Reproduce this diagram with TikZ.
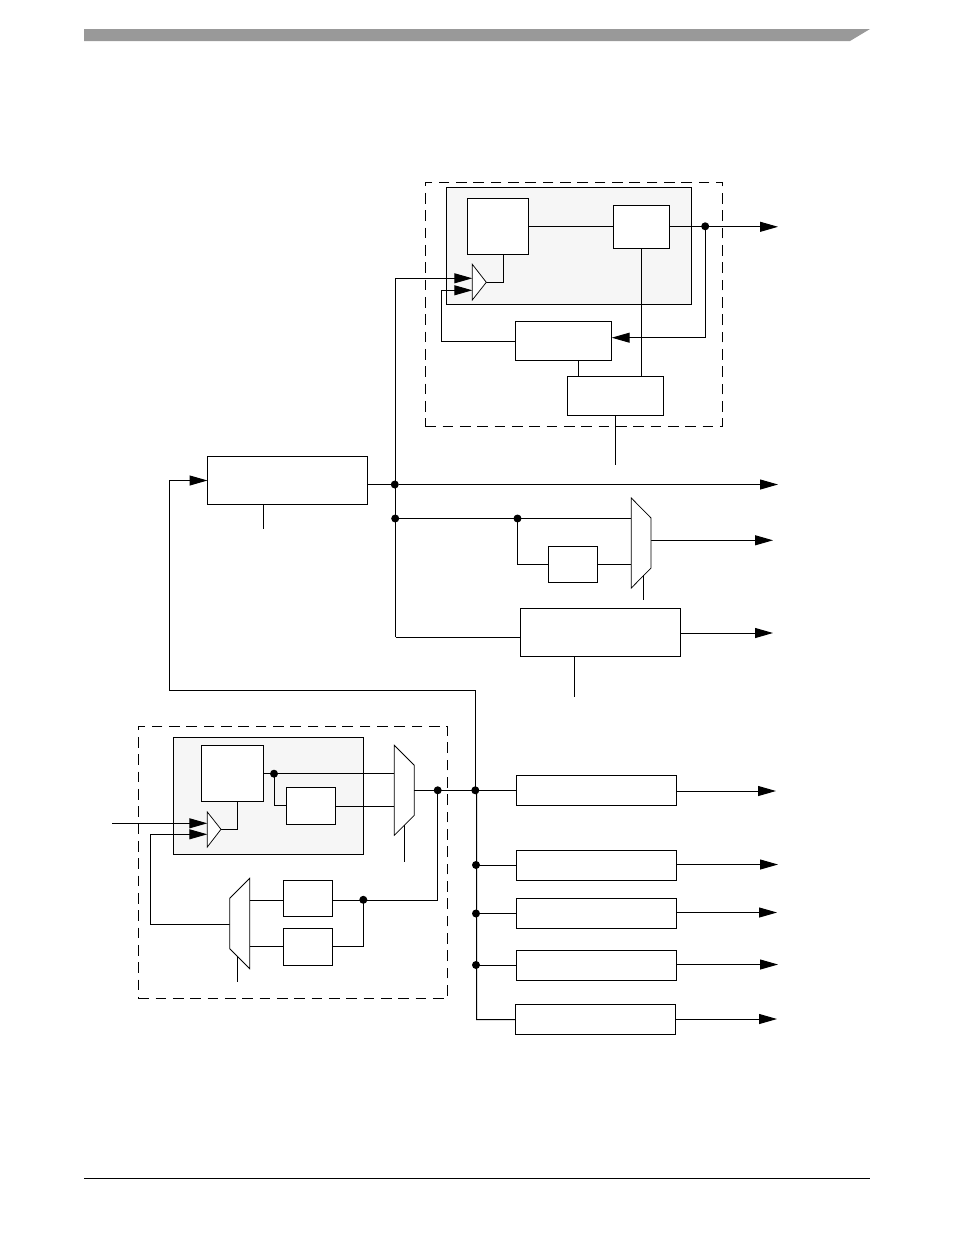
\documentclass[tikz,border=0pt]{standalone}
\usetikzlibrary{arrows.meta}
\definecolor{pllgray}{HTML}{F6F6F6}
\definecolor{bargray}{HTML}{999999}
\tikzset{
	blksize/.style 2 args={minimum width=#1*0.75pt, minimum height=#2*0.75pt},
	blk/.style={draw, fill=white, inner sep=0pt, outer sep=0pt},
	pllblk/.style={blk, fill=pllgray},
	dashblk/.style={draw, dash pattern=on 8pt off 5pt, inner sep=0pt, outer sep=0pt},
	muxbody/.style={draw, fill=white, line width=0.55pt},
	jdot/.style={circle, fill=black, inner sep=0pt, outer sep=0pt, minimum size=6pt},
}
\begin{document}
\begin{tikzpicture}[x=0.75pt, y=-0.75pt, line width=0.75pt, >={Triangle[length=13.5pt,width=7.5pt]}]
	\useasboundingbox (0,0) rectangle (954,1235);
	% page furniture
	\fill[bargray] (84,29) -- (870,29) -- (850,41) -- (84,41) -- cycle;
	\draw[line width=0.6pt] (84,1178) -- (870,1178);

	% upper group
	\node[dashblk, blksize={297.4}{244}] (dashA) at (574,304.3) {};
	\node[pllblk, blksize={245}{117}] (pllA) at (568.8,245.8) {};
	\node[blk, blksize={61.4}{56}] (vcoA) at (498,226.3) {};
	\node[blk, blksize={56.4}{43}] (divA) at (641.5,226.8) {};
	\node[blk, blksize={96.4}{39}] (fbA) at (563.5,340.8) {};
	\node[blk, blksize={96}{39}] (ctlA) at (615.3,395.8) {};
	\coordinate (triAa) at (472.3,278.3);
	\coordinate (triAb) at (472.3,290.3);
	\coordinate (triAtip) at (486.3,282.3);
	\coordinate (vcoAtap) at (503.3,254.3);
	\coordinate (fbAin) at (611.7,337.7);
	\coordinate (fbAturn) at (441.3,341.3);
	\coordinate (fbAtap) at (578.3,360.3);
	\coordinate (ctlAend) at (615.3,464.7);
	\coordinate (outA) at (778,226.8);
	\node[jdot] (jA) at (705.2,226.3) {};
	\draw (vcoA.east) -- (divA.west |- vcoA.east);
	\draw[->] (divA.east) -- (outA);
	\draw (vcoAtap) |- (triAtip);
	\draw (divA.south) -- (divA.south |- ctlA.north);
	\draw (fbAtap) -- (fbAtap |- ctlA.north);
	\draw (ctlA.south) -- (ctlAend);
	\draw[->] (jA.center) |- (fbAin);
	\draw[->] (fbA.west |- fbAturn) -- (fbAturn) |- (triAb);
	\draw[muxbody] (472.3,264.3) -- (486.3,282.3) -- (472.3,300) -- cycle;

	% source block and its branches
	\node[blk, blksize={160}{48}] (bigA) at (287.5,480.5) {};
	\node[blk, blksize={160}{48}] (bigB) at (600.5,632.5) {};
	\node[blk, blksize={49.4}{36}] (divB) at (573,564.3) {};
	\node[jdot] (jC) at (394.8,484.5) {};
	\node[jdot] (jD) at (395.2,518.5) {};
	\node[jdot] (jE) at (517.5,518.5) {};
	\coordinate (upA) at (395.5,278.3);
	\coordinate (bigBin) at (520.5,637);
	\coordinate (muxBa) at (631.3,518.5);
	\coordinate (muxBb) at (631.3,564.3);
	\coordinate (muxBout) at (651,540.3);
	\coordinate (muxBsel) at (643.3,575);
	\coordinate (muxBend) at (643.3,599.7);
	\coordinate (outC) at (778,484.5);
	\coordinate (outD) at (773,540.3);
	\coordinate (outE) at (773,633);
	\coordinate (bigAtap) at (263.5,504.5);
	\coordinate (bigAend) at (263.5,529);
	\coordinate (bigBtap) at (574.5,656.5);
	\coordinate (bigBend) at (574.5,697);
	\draw (bigA.east |- jC) -- (jC);
	\draw[->] (jC) -- (outC);
	\draw[->] (bigBin -| upA) -- (upA) -- (triAa);
	\draw (bigBin -| upA) -- (bigBin);
	\draw (jD.center) -- (muxBa);
	\draw (jE.center) |- (divB.west);
	\draw (divB.east) -- (muxBb);
	\draw[->] (muxBout) -- (outD);
	\draw[->] (bigB.east |- outE) -- (outE);
	\draw (bigAtap) -- (bigAend);
	\draw (bigBtap) -- (bigBend);
	\draw[muxbody] (631.3,498) -- (651,518) -- (651,568) -- (631.3,588) -- cycle;
	\draw (muxBsel) -- (muxBend);

	% lower group
	\node[dashblk, blksize={309.4}{272}] (dashC) at (293,862.3) {};
	\node[pllblk, blksize={190}{117}] (pllC) at (268.3,795.8) {};
	\node[blk, blksize={62}{56}] (vcoC) at (232.3,773.3) {};
	\node[blk, blksize={49}{37}] (divC) at (310.8,805.8) {};
	\node[blk, blksize={49.4}{36}] (fbCa) at (308,898.3) {};
	\node[blk, blksize={49.4}{37}] (fbCb) at (308,946.8) {};
	\node[jdot] (jF) at (274,773.7) {};
	\node[jdot] (jG) at (437.7,790.3) {};
	\node[jdot] (jH) at (363.3,899.8) {};
	\coordinate (triCa) at (207.3,823.3);
	\coordinate (triCb) at (207.3,834.3);
	\coordinate (triCtip) at (221,829.3);
	\coordinate (inC) at (112.3,823.3);
	\coordinate (vcoCtap) at (237.3,801.3);
	\coordinate (retC) at (150.3,924.3);
	\coordinate (muxCout) at (229.7,924.3);
	\coordinate (muxCa) at (249.7,900.3);
	\coordinate (muxCb) at (249.7,946.3);
	\coordinate (muxDa) at (394.3,773.7);
	\coordinate (muxDb) at (394.3,806.3);
	\coordinate (muxDout) at (414.3,790.3);
	\coordinate (muxCsel) at (237.3,956);
	\coordinate (muxCend) at (237.3,981.7);
	\coordinate (muxDsel) at (404.3,825.3);
	\coordinate (muxDend) at (404.3,861.7);
	\coordinate (fbCaout) at (363.3,900.3);
	\coordinate (fbCbout) at (332.7,946.3);
	\draw[->] (inC) -- (triCa);
	\draw[->] (muxCout) -- (retC) |- (triCb);
	\draw (vcoCtap) |- (triCtip);
	\draw (vcoC.east |- jF) -- (muxDa);
	\draw (jF.center) |- (divC.west);
	\draw (divC.east |- muxDb) -- (muxDb);
	\draw (muxCa) -- (fbCa.west |- muxCa);
	\draw (muxCb) -- (fbCb.west |- muxCb);
	\draw (fbCa.east |- fbCaout) -- (fbCaout);
	\draw (fbCbout) -| (jH.center);
	\draw (fbCaout) -| (jG.center);
	\draw[muxbody] (207.3,812) -- (221,829.3) -- (207.3,847) -- cycle;
	\draw[muxbody] (394.3,745.3) -- (414.3,765.3) -- (414.3,815.3) -- (394.3,835.3) -- cycle;
	\draw[muxbody] (229.7,898.3) -- (249.7,878.3) -- (249.7,968.7) -- (229.7,948.7) -- cycle;
	\draw (muxCsel) -- (muxCend);
	\draw (muxDsel) -- (muxDend);

	% output blocks on the bus
	\foreach \name/\xx/\yy/\tip/\oy in {%
			blkL/596.5/790.5/776/791,%
			blkM/596.5/865.5/778/864.5,%
			blkN/596.5/913.5/777/912.5,%
			blkO/596.5/965.5/778/964.5,%
			blkP/595.5/1019.5/777/1019%
		} {
			\node[blk, blksize={160}{30}] (\name) at (\xx,\yy) {};
			\coordinate (\name out) at (\tip,\oy);
			\draw[->] (\name.east |- \name out) -- (\name out);
		}
	\node[jdot] (jBus) at (475.3,790.3) {};
	\node[jdot] (jM) at (476,865) {};
	\node[jdot] (jN) at (476,913.5) {};
	\node[jdot] (jO) at (476,965) {};
	\coordinate (fbCorner) at (169.5,690);
	\coordinate (busTurn) at (476.7,1019.5);
	\draw[->] (jBus.center) |- (fbCorner) |- (bigA.west);
	\draw (muxDout) -- (blkL.west |- muxDout);
	\draw (476.5,790.3) -- (busTurn) -- (blkP.west);
	\draw (jM.center) -- (blkM.west |- jM);
	\draw (jN.center) -- (blkN.west);
	\draw (jO.center) -- (blkO.west |- jO);
\end{tikzpicture}
\end{document}
